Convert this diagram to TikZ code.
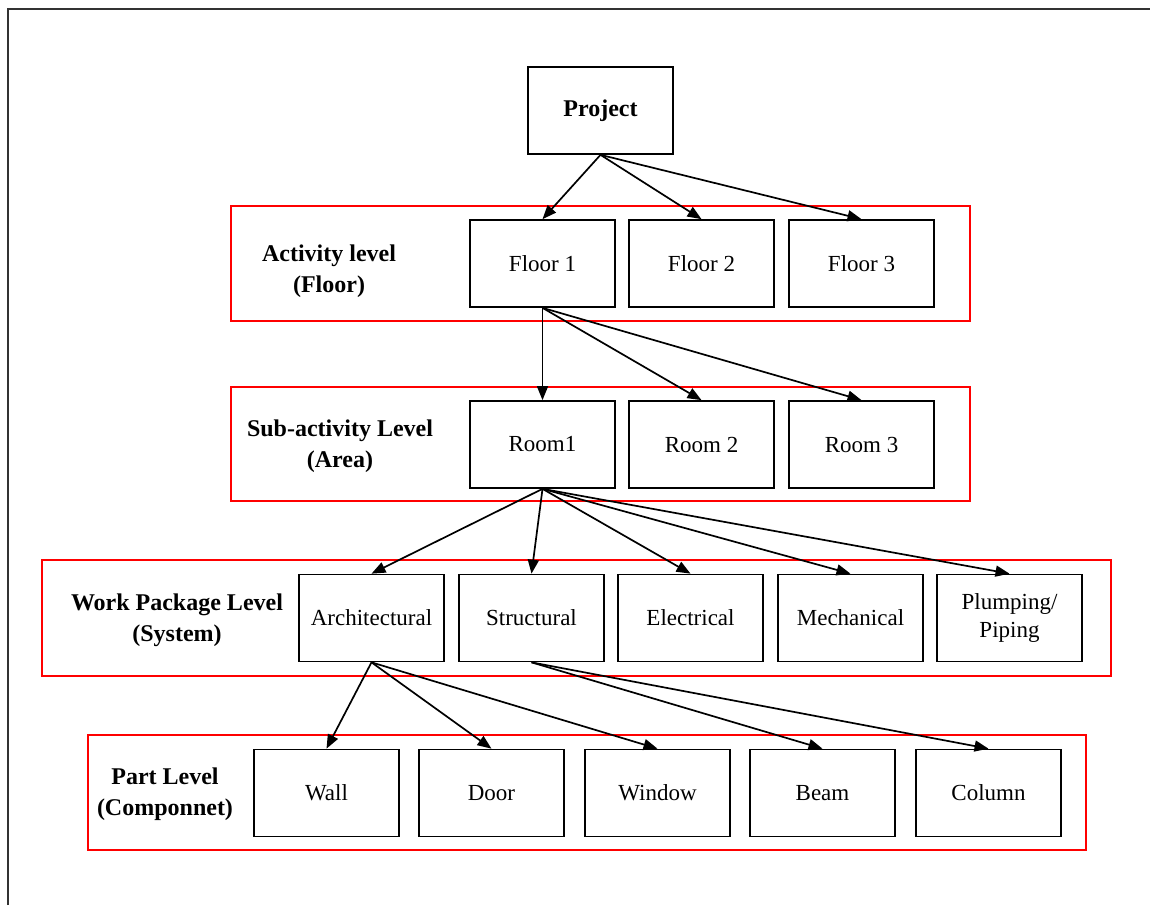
\documentclass[tikz,border=0pt]{standalone}
\usepackage{fontspec}
\setmainfont{Liberation Serif}
\usetikzlibrary{arrows.meta}
\begin{document}
\begin{tikzpicture}[x=1pt,y=-1pt,
  item/.style={draw,line width=1.7pt,rectangle,minimum width=145pt,minimum height=87pt,
    inner sep=0pt,align=center,font=\fontsize{23}{28}\selectfont},
  levelbox/.style={draw=red,line width=1.6pt},
  levellabel/.style={align=center,font=\fontsize{24}{31}\selectfont\bfseries},
  link/.style={line width=1.7pt,-{Triangle[length=14pt,width=11pt]}}]
\useasboundingbox (0,0) rectangle (1150,905);
% page frame
\draw[line width=2.2pt,black!80] (8,905) -- (8,9) -- (1150,9);

% level frames
\draw[levelbox] (231,206) rectangle (970,321);
\draw[levelbox] (231,387) rectangle (970,501);
\draw[levelbox] (42,560) rectangle (1111,676);
\draw[levelbox] (88,735) rectangle (1086,850);

% level labels
\node[levellabel] (l1) at (329,271) {Activity level\\(Floor)};
\node[levellabel] (l2) at (340,446) {Sub-activity Level\\(Area)};
\node[levellabel] (l3) at (177,620) {Work Package Level\\(System)};
\node[levellabel] (l4) at (165,794) {Part Level\\(Componnet)};

% project
\node[item,font=\fontsize{24}{27}\selectfont\bfseries] (p) at (600.5,110.5) {Project};

% floors
\node[item] (f1) at (542.5,263.5) {Floor 1};
\node[item] (f2) at (701.5,263.5) {Floor 2};
\node[item] (f3) at (861.5,263.5) {Floor 3};

% rooms
\node[item] (r1) at (542.5,444.5) {Room1};
\node[item] (r2) at (701.5,444.5) {Room 2};
\node[item] (r3) at (861.5,444.5) {Room 3};

% work packages
\node[item] (w1) at (371.5,618) {Architectural};
\node[item] (w2) at (531.5,618) {Structural};
\node[item] (w3) at (690.5,618) {Electrical};
\node[item] (w4) at (850.5,618) {Mechanical};
\node[item] (w5) at (1009.5,618) {Plumping/\\Piping};

% parts
\node[item] (c1) at (326.5,793) {Wall};
\node[item] (c2) at (491.5,793) {Door};
\node[item] (c3) at (657.5,793) {Window};
\node[item] (c4) at (822.5,793) {Beam};
\node[item] (c5) at (988.5,793) {Column};

% connectors
\foreach \t in {f1,f2,f3} \draw[link] (p.south) -- (\t.north);
\foreach \t in {r1,r2,r3} \draw[link] (f1.south) -- (\t.north);
\foreach \t in {w1,w2,w3,w4,w5} \draw[link] (r1.south) -- (\t.north);
\foreach \t in {c1,c2,c3} \draw[link] (w1.south) -- (\t.north);
\foreach \t in {c4,c5} \draw[link] (w2.south) -- (\t.north);
\end{tikzpicture}
\end{document}
